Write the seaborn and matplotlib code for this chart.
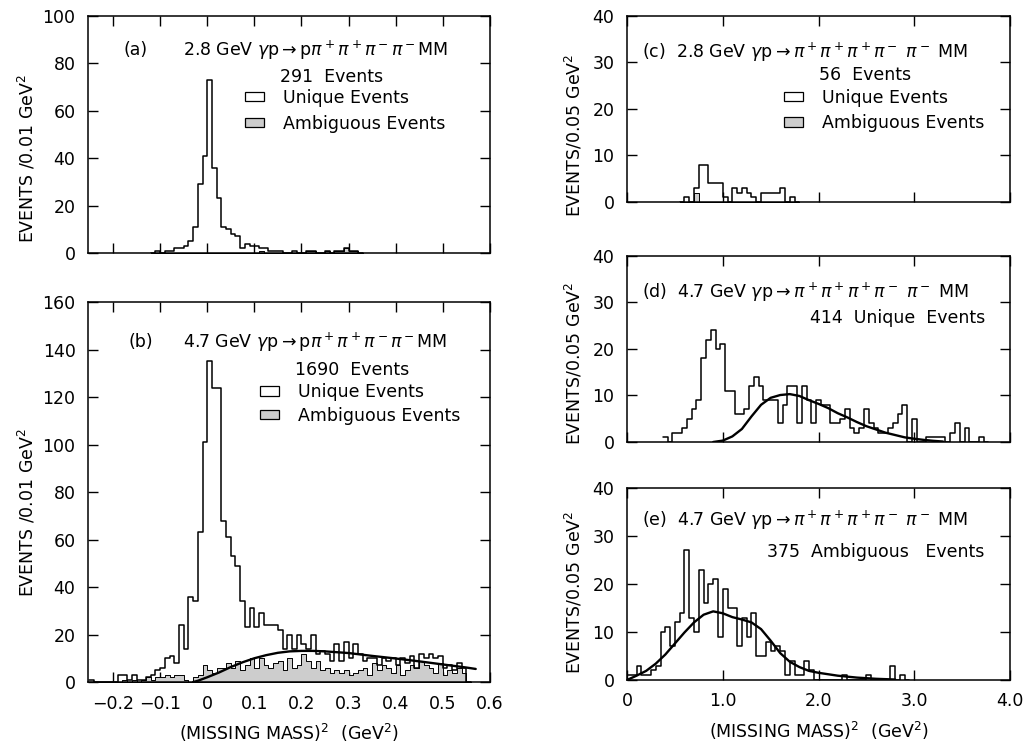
import numpy as np
import pandas as pd
import matplotlib
matplotlib.use("Agg")
import matplotlib.pyplot as plt
from matplotlib.patches import Patch
import seaborn as sns

# ---- values ----
# (a) 2.8 GeV, p pi+ pi+ pi- pi- MM, bins of 0.01 GeV^2 starting at -0.12
a_start = -0.12
a_all = [0, 1, 0, 1, 1, 2, 2, 3, 5, 11,
         29, 41, 73, 36, 23, 11, 10, 8, 7, 2,
         4, 3, 3, 2, 2, 1, 1, 1, 0, 0,
         1, 0, 0, 1, 1, 0, 0, 1, 0, 1,
         1, 2, 1, 1, 0]
a_amb = [0, 0, 0, 0, 0, 0, 0, 0, 0, 0,
         0, 0, 0, 0, 0, 0, 0, 0, 0, 0,
         0, 0, 0, 1, 0, 0, 0, 0, 0, 0,
         0, 0, 0, 1, 1, 0, 0, 1, 0, 1,
         1, 2, 1, 1, 0]

# (b) 4.7 GeV, bins of 0.01 GeV^2 starting at -0.25
b_start = -0.25
b_all = [1, 0, 0, 0, 0, 0, 3, 3, 1, 3,
         1, 1, 2, 3, 5, 6, 10, 11, 8, 24,
         14, 36, 34, 63, 101, 135, 124, 124, 68, 61,
         53, 49, 34, 23, 31, 23, 29, 24, 24, 24,
         22, 14, 20, 14, 20, 16, 14, 20, 12, 13,
         12, 9, 16, 9, 17, 10, 16, 12, 9, 10,
         10, 7, 10, 9, 10, 7, 10, 8, 11, 6,
         12, 10, 12, 10, 11, 6, 7, 5, 8, 6,
         0]
b_amb = [0, 0, 0, 0, 0, 0, 0, 1, 0, 1,
         0, 1, 2, 1, 2, 2, 3, 2, 3, 3,
         1, 0, 2, 3, 7, 5, 4, 6, 6, 8,
         6, 9, 5, 7, 10, 6, 10, 7, 6, 8,
         9, 5, 10, 6, 7, 12, 9, 6, 9, 5,
         6, 4, 5, 4, 5, 3, 4, 5, 6, 3,
         8, 5, 7, 6, 4, 7, 3, 5, 7, 6,
         9, 7, 6, 4, 8, 3, 5, 4, 6, 4,
         0]
b_fit_x = [-0.03, -0.02, 0.0, 0.025, 0.05, 0.075, 0.10, 0.125, 0.15, 0.175,
           0.20, 0.225, 0.25, 0.30, 0.35, 0.40, 0.45, 0.50, 0.55, 0.57]
b_fit_y = [0, 0.5, 2, 4, 6.3, 8.3, 10, 11.3, 12.3, 12.9,
           13.1, 13.1, 12.9, 12.2, 11, 9.9, 8.7, 7.4, 6.1, 5.5]

# (c) 2.8 GeV, pi+ pi+ pi+ pi- pi- MM, bins of 0.05 GeV^2 starting at 0.55
c_start = 0.55
c_all = [0, 1, 0, 3, 8, 8, 4, 4, 4, 1,
         0, 3, 2, 3, 2, 1, 0, 2, 2, 2,
         2, 3, 0, 1, 0]
c_amb = [0, 0, 0, 2, 0, 0, 0, 0, 0, 0,
         0, 0, 0, 0, 0, 0, 0, 0, 0, 0,
         0, 0, 0, 0, 0]

# (d) 4.7 GeV, unique events, bins of 0.05 GeV^2 starting at 0.375
d_start = 0.375
d_all = [1, 0, 2, 2, 3, 5, 7, 9, 18, 22,
         24, 20, 21, 11, 11, 6, 6, 7, 12, 14,
         12, 9, 9, 9, 4, 8, 12, 12, 4, 12,
         9, 4, 9, 8, 8, 4, 4, 5, 7, 3,
         2, 3, 7, 4, 3, 2, 2, 3, 4, 6,
         8, 0, 5, 0, 0, 1, 1, 1, 1, 0,
         2, 4, 0, 3, 0, 0, 1, 0]
d_fit_x = [0.9, 1.0, 1.1, 1.2, 1.3, 1.4, 1.5, 1.6, 1.7, 1.8,
           1.9, 2.0, 2.1, 2.2, 2.3, 2.4, 2.5, 2.6, 2.7, 2.8,
           2.9, 3.0, 3.1, 3.2, 3.3]
d_fit_y = [0, 0.3, 1.2, 2.8, 5.5, 8.0, 9.5, 10.1, 10.3, 9.9,
           9.0, 8.2, 7.3, 6.2, 5.3, 4.3, 3.4, 2.7, 2.0, 1.5,
           1.0, 0.7, 0.45, 0.25, 0.1]

# (e) 4.7 GeV, ambiguous events, bins of 0.05 GeV^2 starting at 0
e_start = 0.0
e_all = [1, 1, 3, 1, 1, 2, 3, 10, 11, 7,
         12, 14, 27, 13, 10, 23, 16, 20, 21, 9,
         19, 15, 15, 7, 13, 9, 14, 5, 5, 8,
         6, 7, 6, 1, 4, 1, 1, 4, 2, 0,
         0, 0, 0, 0, 0, 1, 0, 0, 0, 0,
         1, 0, 0, 0, 0, 3, 0, 1, 0]
e_fit_x = [0.0, 0.1, 0.2, 0.3, 0.4, 0.5, 0.6, 0.7, 0.8, 0.9,
           1.0, 1.1, 1.2, 1.3, 1.4, 1.5, 1.6, 1.7, 1.8, 1.9,
           2.0, 2.2, 2.4, 2.6, 2.8]
e_fit_y = [0, 0.9, 1.9, 3.4, 5.3, 7.6, 9.9, 12.0, 13.6, 14.3,
           13.9, 13.1, 12.6, 12.0, 10.6, 8.2, 5.6, 3.8, 2.7, 1.9,
           1.5, 0.9, 0.5, 0.25, 0.1]

sns.set_style("ticks")
plt.rcParams["font.family"] = ["DejaVu Sans"]
plt.rcParams["mathtext.fontset"] = "dejavusans"
plt.rcParams.update({"text.color": "black", "axes.labelcolor": "black",
                     "xtick.color": "black", "ytick.color": "black",
                     "axes.edgecolor": "black", "axes.linewidth": 1.0})

FS = 12.5
SHADE = "#cdcdcd"


def draw_hist(ax, start, width, counts, shaded=False):
    n = len(counts)
    edges = [start + width * i for i in range(n + 1)]
    df = pd.DataFrame({"mm": [e + width / 2 for e in edges[:-1]],
                       "n": np.asarray(counts, dtype=float)})
    if shaded:
        sns.histplot(data=df, x="mm", weights="n", bins=edges, element="step",
                     fill=True, color=SHADE, alpha=1, edgecolor="black",
                     linewidth=0.7, ax=ax)
    else:
        sns.histplot(data=df, x="mm", weights="n", bins=edges, element="step",
                     fill=False, color="black", linewidth=1.1, ax=ax)


def style_axes(ax, xlim, ylim, xticks, yticks):
    ax.set_xlim(*xlim)
    ax.set_ylim(*ylim)
    ax.set_xticks(xticks)
    ax.set_yticks(yticks)
    ax.tick_params(direction="in", top=True, right=True, length=7, width=1,
                   labelsize=FS, pad=9)
    for s in ax.spines.values():
        s.set_visible(True)
        s.set_linewidth(1.1)
    ax.set_xlabel("")
    ax.set_ylabel("")


def add_legend(ax, x, y, spacing=0.45):
    handles = [Patch(facecolor="white", edgecolor="black", linewidth=0.9),
               Patch(facecolor=SHADE, edgecolor="black", linewidth=0.9)]
    ax.legend(handles, ["Unique Events", "Ambiguous Events"], loc="upper left",
              bbox_to_anchor=(x, y), frameon=False, fontsize=FS,
              handlelength=1.1, handleheight=0.45, handletextpad=1.1,
              labelspacing=spacing, borderpad=0, borderaxespad=0)


fig = plt.figure(figsize=(10.25, 7.47), dpi=100)
ax_a = fig.add_axes([0.0859, 0.6613, 0.392, 0.3173])
ax_b = fig.add_axes([0.0859, 0.0870, 0.392, 0.5087])
ax_c = fig.add_axes([0.6117, 0.7296, 0.3737, 0.2490])
ax_d = fig.add_axes([0.6117, 0.4083, 0.3737, 0.2490])
ax_e = fig.add_axes([0.6117, 0.0897, 0.3737, 0.2570])

mm_ticks = [-0.2, -0.1, 0, 0.1, 0.2, 0.3, 0.4, 0.5, 0.6]
mm_labels = ["\u22120.2", "\u22120.1", "0", "0.1", "0.2", "0.3", "0.4", "0.5", "0.6"]
big_ticks = [0, 1, 2, 3, 4]

# (a)
draw_hist(ax_a, a_start, 0.01, a_amb, shaded=True)
draw_hist(ax_a, a_start, 0.01, a_all)
style_axes(ax_a, (-0.253, 0.6), (0, 100), mm_ticks, range(0, 101, 20))
ax_a.tick_params(labelbottom=False)
ax_a.set_ylabel("EVENTS /0.01 GeV$^2$", fontsize=FS)
ax_a.yaxis.set_label_coords(-0.125, 0.40)
ax_a.text(0.087, 0.857, "(a)", transform=ax_a.transAxes, fontsize=FS, va="center")
ax_a.text(0.236, 0.857, "2.8 GeV $\\gamma$p$\\rightarrow$p$\\pi^+\\pi^+\\pi^-\\pi^-$MM",
          transform=ax_a.transAxes, fontsize=FS, va="center")
ax_a.text(0.478, 0.743, "291  Events", transform=ax_a.transAxes, fontsize=FS, va="center")
add_legend(ax_a, 0.39, 0.693)

# (b)
draw_hist(ax_b, b_start, 0.01, b_amb, shaded=True)
draw_hist(ax_b, b_start, 0.01, b_all)
sns.lineplot(x=b_fit_x, y=b_fit_y, color="black", linewidth=1.7, ax=ax_b)
style_axes(ax_b, (-0.253, 0.6), (0, 160), mm_ticks, range(0, 161, 20))
ax_b.set_xticklabels(mm_labels)
ax_b.set_ylabel("EVENTS /0.01 GeV$^2$", fontsize=FS)
ax_b.yaxis.set_label_coords(-0.125, 0.445)
ax_b.set_xlabel("(MISSING MASS)$^2$  (GeV$^2$)", fontsize=FS, labelpad=7)
ax_b.text(0.10, 0.895, "(b)", transform=ax_b.transAxes, fontsize=FS, va="center")
ax_b.text(0.236, 0.895, "4.7 GeV $\\gamma$p$\\rightarrow$p$\\pi^+\\pi^+\\pi^-\\pi^-$MM",
          transform=ax_b.transAxes, fontsize=FS, va="center")
ax_b.text(0.515, 0.821, "1690  Events", transform=ax_b.transAxes, fontsize=FS, va="center")
add_legend(ax_b, 0.428, 0.786, spacing=0.3)

reaction = "GeV $\\gamma$p$\\rightarrow\\pi^+\\pi^+\\pi^+\\pi^-\\ \\pi^-$ MM"

# (c)
draw_hist(ax_c, c_start, 0.05, c_amb, shaded=True)
draw_hist(ax_c, c_start, 0.05, c_all)
style_axes(ax_c, (0, 4), (0, 40), big_ticks, range(0, 41, 10))
ax_c.tick_params(labelbottom=False)
ax_c.set_ylabel("EVENTS/0.05 GeV$^2$", fontsize=FS)
ax_c.yaxis.set_label_coords(-0.11, 0.36)
ax_c.text(0.04, 0.806, "(c)  2.8 " + reaction, transform=ax_c.transAxes,
          fontsize=FS, va="center")
ax_c.text(0.50, 0.683, "56  Events", transform=ax_c.transAxes, fontsize=FS, va="center")
add_legend(ax_c, 0.41, 0.61)

# (d)
draw_hist(ax_d, d_start, 0.05, d_all)
sns.lineplot(x=d_fit_x, y=d_fit_y, color="black", linewidth=1.7, ax=ax_d)
style_axes(ax_d, (0, 4), (0, 40), big_ticks, range(0, 41, 10))
ax_d.tick_params(labelbottom=False)
ax_d.set_ylabel("EVENTS/0.05 GeV$^2$", fontsize=FS)
ax_d.yaxis.set_label_coords(-0.11, 0.425)
ax_d.text(0.04, 0.806, "(d)  4.7 " + reaction, transform=ax_d.transAxes,
          fontsize=FS, va="center")
ax_d.text(0.478, 0.667, "414  Unique  Events", transform=ax_d.transAxes,
          fontsize=FS, va="center")

# (e)
draw_hist(ax_e, e_start, 0.05, e_all)
sns.lineplot(x=e_fit_x, y=e_fit_y, color="black", linewidth=1.7, ax=ax_e)
style_axes(ax_e, (0, 4), (0, 40), big_ticks, range(0, 41, 10))
ax_e.set_xticklabels(["0", "1.0", "2.0", "3.0", "4.0"])
ax_e.set_ylabel("EVENTS/0.05 GeV$^2$", fontsize=FS)
ax_e.yaxis.set_label_coords(-0.11, 0.458)
ax_e.set_xlabel("(MISSING MASS)$^2$  (GeV$^2$)", fontsize=FS, labelpad=7)
ax_e.text(0.04, 0.833, "(e)  4.7 " + reaction, transform=ax_e.transAxes,
          fontsize=FS, va="center")
ax_e.text(0.366, 0.667, "375  Ambiguous   Events", transform=ax_e.transAxes,
          fontsize=FS, va="center")

fig.savefig("out.png", dpi=100, facecolor="white")
